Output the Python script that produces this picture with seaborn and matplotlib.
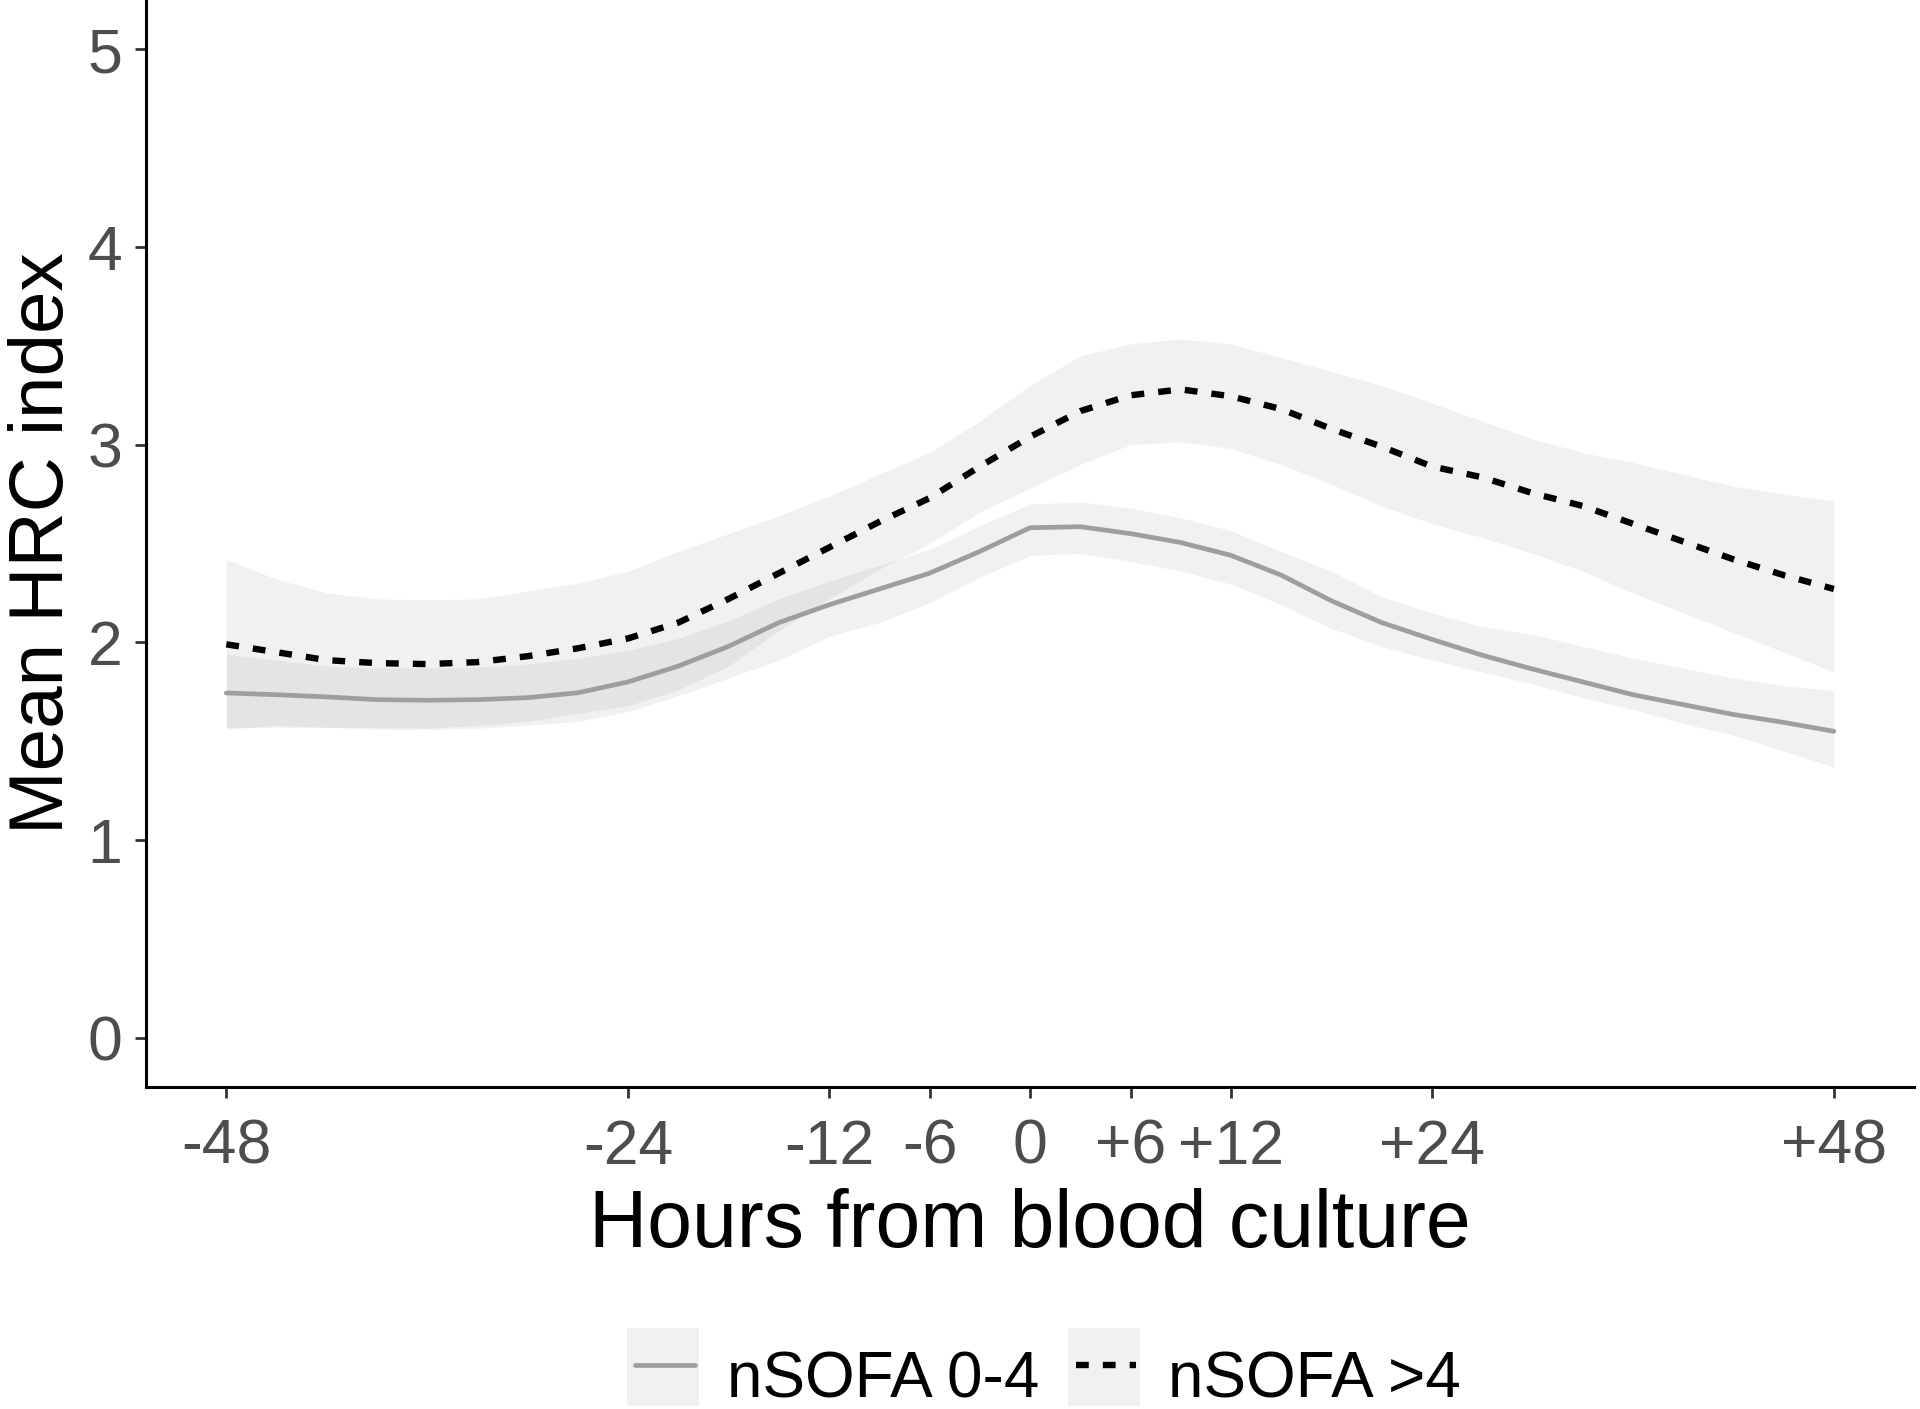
import numpy as np
import pandas as pd
import matplotlib.pyplot as plt
import seaborn as sns
from matplotlib.patches import Rectangle
from matplotlib.lines import Line2D

# hours from blood culture
hours = [-48, -45, -42, -39, -36, -33, -30, -27, -24, -21, -18, -15, -12, -9, -6, -3,
         0, 3, 6, 9, 12, 15, 18, 21, 24, 27, 30, 33, 36, 39, 42, 45, 48]

# nSOFA 0-4 (solid grey)
low_mean = [1.744, 1.735, 1.724, 1.71, 1.707, 1.71, 1.72, 1.745, 1.80, 1.88, 1.98, 2.10, 2.19,
            2.27, 2.35, 2.46, 2.58, 2.585, 2.55, 2.505, 2.44, 2.34, 2.21, 2.10, 2.015, 1.935,
            1.865, 1.80, 1.735, 1.685, 1.635, 1.595, 1.55]
low_upper = [1.94, 1.91, 1.88, 1.87, 1.87, 1.875, 1.89, 1.92, 1.96, 2.02, 2.11, 2.22, 2.31,
             2.39, 2.47, 2.59, 2.70, 2.71, 2.68, 2.63, 2.565, 2.46, 2.36, 2.23, 2.15, 2.08,
             2.04, 1.98, 1.92, 1.87, 1.82, 1.78, 1.757]
low_lower = [1.57, 1.57, 1.57, 1.56, 1.56, 1.565, 1.58, 1.60, 1.65, 1.73, 1.82, 1.91, 2.03,
             2.10, 2.20, 2.33, 2.44, 2.45, 2.41, 2.36, 2.295, 2.19, 2.07, 1.98, 1.91, 1.85,
             1.79, 1.72, 1.66, 1.59, 1.53, 1.45, 1.37]

# nSOFA >4 (dashed black)
high_mean = [1.99, 1.95, 1.91, 1.895, 1.89, 1.90, 1.93, 1.97, 2.02, 2.10, 2.22, 2.35, 2.48,
             2.61, 2.73, 2.89, 3.04, 3.17, 3.25, 3.28, 3.245, 3.18, 3.08, 2.99, 2.89, 2.835,
             2.755, 2.69, 2.60, 2.51, 2.42, 2.34, 2.27]
high_upper = [2.42, 2.32, 2.25, 2.22, 2.215, 2.22, 2.26, 2.30, 2.36, 2.46, 2.55, 2.64, 2.74,
              2.85, 2.96, 3.12, 3.30, 3.45, 3.51, 3.535, 3.51, 3.44, 3.37, 3.30, 3.21, 3.12,
              3.03, 2.96, 2.91, 2.85, 2.79, 2.75, 2.715]
high_lower = [1.56, 1.58, 1.57, 1.57, 1.565, 1.58, 1.60, 1.64, 1.68, 1.76, 1.88, 2.06, 2.22,
              2.37, 2.50, 2.66, 2.78, 2.90, 3.0, 3.015, 2.98, 2.90, 2.80, 2.69, 2.60, 2.53,
              2.45, 2.36, 2.25, 2.15, 2.05, 1.95, 1.85]

groups = ['nSOFA 0-4', 'nSOFA >4']
tick_pos = [-48, -24, -12, -6, 0, 6, 12, 24, 48]
tick_labels = ['-48', '-24', '-12', '-6', '0', '+6', '+12', '+24', '+48']

df = pd.DataFrame({
    'hours': hours * 2,
    'hrc': low_mean + high_mean,
    'group': [groups[0]] * len(hours) + [groups[1]] * len(hours),
})

sns.set_style("ticks")
plt.rcParams['font.family'] = ['Liberation Sans', 'DejaVu Sans']

colors = {groups[0]: '#9e9e9e', groups[1]: 'black'}
widths = {groups[0]: 3.4, groups[1]: 4.6}
dash_pat = (2.0, 2.2)

fig = plt.figure(figsize=(19.2, 14.09), dpi=100)
ax = fig.add_axes([0.076, 0.2285, 0.921, 0.7715])

band_kw = dict(color='#808080', alpha=0.11, linewidth=0, zorder=1)
ax.fill_between(hours, low_lower, low_upper, **band_kw)
ax.fill_between(hours, high_lower, high_upper, **band_kw)

sns.lineplot(data=df, x='hours', y='hrc', hue='group', style='group',
             palette=colors, dashes={groups[0]: '', groups[1]: dash_pat},
             linewidth=widths[groups[0]], legend=False, ax=ax, zorder=3)
# thicker dashed line
ax.lines[1].set_linewidth(widths[groups[1]])
ax.lines[1].set_dash_capstyle('butt')

ax.set_xlim(-52.8, 52.8)
ax.set_ylim(-0.25, 5.25)
ax.set_xticks(tick_pos)
ax.set_xticklabels(tick_labels)
ax.set_yticks([0, 1, 2, 3, 4, 5])
ax.tick_params(axis='both', labelsize=45, labelcolor='#4d4d4d', color='#333333',
               width=2, length=8)
ax.tick_params(axis='x', pad=14)
ax.tick_params(axis='y', pad=9)
sns.despine(ax=ax)
for s in ['left', 'bottom']:
    ax.spines[s].set_linewidth(2.2)
    ax.spines[s].set_color('black')

ax.set_xlabel('Hours from blood culture', fontsize=58, color='black')
ax.set_ylabel('Mean HRC index', fontsize=55, color='black')
ax.xaxis.set_label_coords(0.5, -0.093)
ax.yaxis.set_label_coords(-0.038, 0.5)

# legend at the bottom, ggplot style keys (grey fill + line)
key_x = [0.3266, 0.5563]
key_w, key_h, key_y = 0.0375, 0.0554, 0.0021
for i, g in enumerate(groups):
    fig.add_artist(Rectangle((key_x[i], key_y), key_w, key_h, transform=fig.transFigure,
                             facecolor='#f1f1f1', edgecolor='none'))
    ln = Line2D([key_x[i] + 0.004, key_x[i] + key_w - 0.002], [0.0312, 0.0312],
                transform=fig.transFigure, color=colors[g], linewidth=widths[g])
    if i == 1:
        ln.set_dashes(dash_pat)
        ln.set_dash_capstyle('butt')
    fig.add_artist(ln)
    fig.text(key_x[i] + key_w + 0.0145, 0.0085, g, fontsize=46, color='black',
             ha='left', va='baseline')

fig.savefig('out.png', dpi=100)
